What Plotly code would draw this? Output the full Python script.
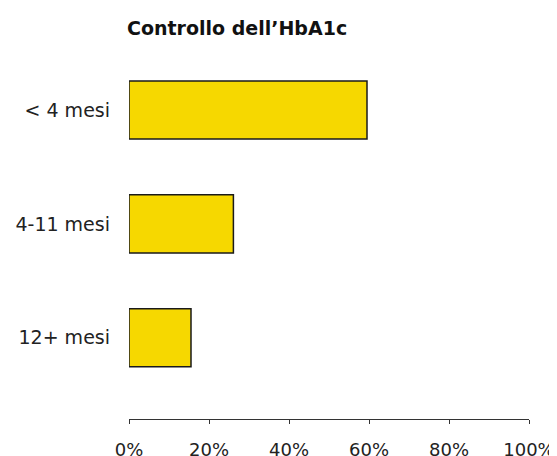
import plotly.graph_objects as go

categories = ["< 4 mesi", "4-11 mesi", "12+ mesi"]
values = [59.5, 26.1, 15.5]
x_ticks = [0, 20, 40, 60, 80, 100]
x_labels = ["0%", "20%", "40%", "60%", "80%", "100%"]

FONT = "DejaVu Sans"

# page body keeps an 8px margin, so the figure is a bit smaller than the window
fig = go.Figure()
fig.add_trace(
    go.Bar(
        x=values,
        y=categories,
        orientation="h",
        width=0.51,
        marker=dict(color="#F6D800", line=dict(color="#1a1a1a", width=1.5)),
        hoverinfo="skip",
    )
)

fig.update_layout(
    width=549,
    height=448,
    margin=dict(l=120.5, r=28, t=52, b=36.7, pad=0),
    paper_bgcolor="white",
    plot_bgcolor="white",
    showlegend=False,
    title=dict(
        text="<b>Controllo dell’HbA1c</b>",
        font=dict(family=FONT, size=19, color="#111111"),
        xref="container",
        x=119 / 549,
        xanchor="left",
        yref="container",
        y=1 - 20 / 448,
        yanchor="middle",
    ),
    xaxis=dict(
        range=[0, 100],
        tickvals=x_ticks,
        ticktext=x_labels,
        showgrid=False,
        zeroline=False,
        showline=True,
        linecolor="#333333",
        linewidth=1,
        ticks="outside",
        ticklen=4,
        tickcolor="#333333",
        tickfont=dict(family=FONT, size=18, color="#222222"),
        ticklabelstandoff=10,
        automargin=False,
        fixedrange=True,
    ),
    yaxis=dict(
        type="category",
        categoryorder="array",
        categoryarray=categories,
        range=[2.713, -0.439],
        showgrid=False,
        zeroline=False,
        showline=False,
        ticks="",
        tickfont=dict(family=FONT, size=19, color="#222222"),
        ticklabelstandoff=18,
        automargin=False,
        fixedrange=True,
    ),
)

fig.write_html("out.html")
